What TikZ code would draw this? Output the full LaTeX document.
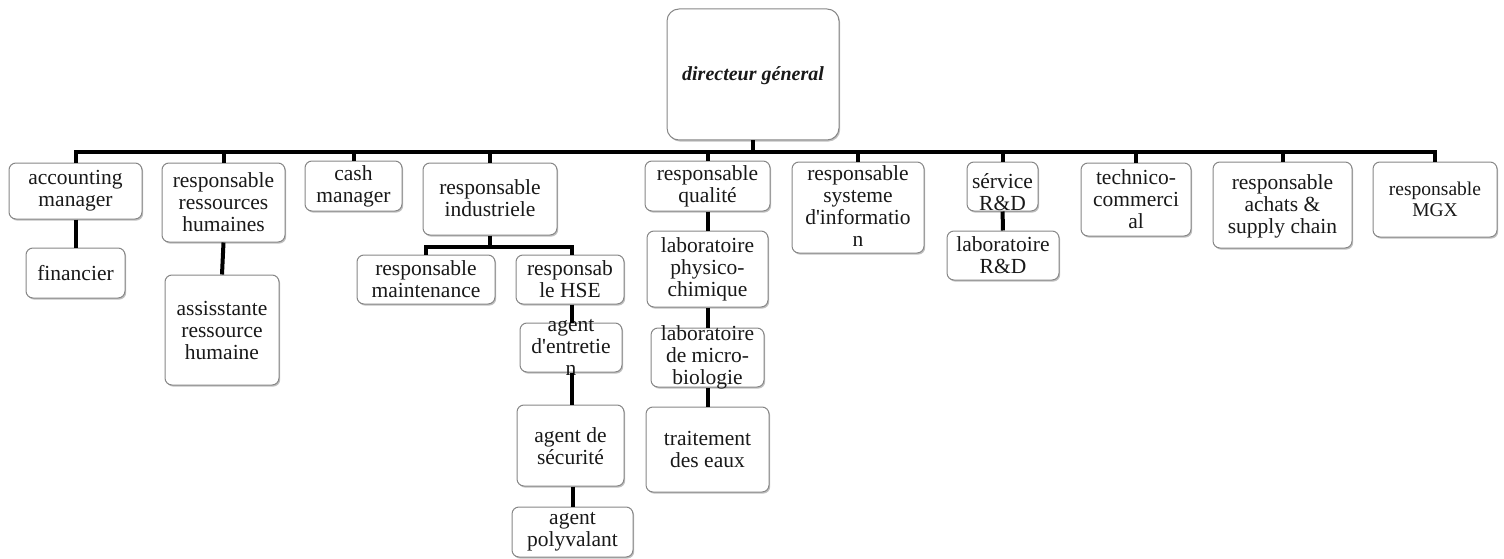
\documentclass[tikz,border=0pt]{standalone}
\usepackage{fontspec}
\setmainfont{Liberation Serif}[Ligatures=TeXOff]
\usetikzlibrary{shadows}
\definecolor{boxgray}{RGB}{135,135,135}
% one box of the chart: name, centre x, centre y, width, height, text, text options
\newcommand\orgnode[7]{%
  \node[orgbox, minimum width=#4pt, minimum height=#5pt,
        label={[txt,#7]center:{#6}}] (#1) at (#2,#3) {};}
\begin{document}
\begin{tikzpicture}[x=1pt,y=-1pt,
  orgbox/.style={draw=boxgray, line width=1pt, fill=white, rounded corners=7pt,
    inner sep=0pt, drop shadow={shadow xshift=1.2pt, shadow yshift=-1.6pt,
    opacity=0.35, fill=black!70}},
  txt/.style={font=\fontsize{21.5}{22}\selectfont, align=center, inner sep=0pt, text=black!90},
  wire/.style={line width=4pt, black}]
\useasboundingbox (0,0) rectangle (1504,559);

% top
\node[orgbox, rounded corners=12pt, minimum width=172pt, minimum height=131pt,
      label={[txt, font=\fontsize{20}{22}\selectfont\bfseries\itshape, yshift=-1pt]center:{directeur géneral}}]
      (dg) at (753,74.5) {};

% first level
\orgnode{acc}{75.5}{191}{133}{56}{accounting\\manager}{}
\orgnode{rrh}{223.5}{202.5}{123}{79}{responsable\\ressources\\humaines}{}
\orgnode{cash}{353.5}{186}{97}{50}{cash\\manager}{}
\orgnode{ind}{490}{199}{134}{72}{responsable\\industriele}{yshift=1pt}
\orgnode{qual}{707.5}{186}{125}{50}{responsable\\qualité}{}
\orgnode{sys}{858}{207.5}{132}{91}{responsable\\systeme\\d'informatio\\n}{yshift=1pt}
\orgnode{rd}{1002.5}{186.5}{71}{49}{sérvice\\R\&D}{yshift=-6pt}
\orgnode{tech}{1136}{199.5}{110}{73}{technico-\\commerci\\al}{}
\orgnode{ach}{1282.5}{205}{139}{86}{responsable\\achats \&\\supply chain}{yshift=-1pt}
\orgnode{mgx}{1435}{199.5}{124}{75}{responsable\\MGX}{font=\fontsize{19.5}{21}\selectfont}

% lower levels
\orgnode{fin}{75.5}{273}{99}{50}{financier}{}
\orgnode{ass}{222}{330}{114}{110}{assisstante\\ressource\\humaine}{}
\orgnode{maint}{426}{279.5}{138}{49}{responsable\\maintenance}{}
\orgnode{hse}{570}{279.5}{108}{49}{responsab\\le HSE}{}
\orgnode{ent}{571}{347.5}{102}{49}{agent\\d'entretie\\n}{}
\orgnode{sec}{570.5}{445.5}{107}{81}{agent de\\sécurité}{yshift=-1pt}
\orgnode{poly}{572.5}{532}{121}{50}{agent\\polyvalant}{}
\orgnode{phys}{707.5}{269}{121}{76}{laboratoire\\physico-\\chimique}{}
\orgnode{micro}{707.5}{357.5}{113}{59}{laboratoire\\de micro-\\biologie}{}
\orgnode{eaux}{707.5}{449.5}{123}{85}{traitement\\des eaux}{}
\orgnode{lab}{1003}{255.5}{112}{49}{laboratoire\\R\&D}{}

% main bus
\coordinate (busL) at (75.5,152);
\coordinate (busR) at (1435,152);
\draw[wire, line cap=rect] (busL) -- (busR);
\draw[wire] (dg.south) -- (dg.south |- busL);
\foreach \n in {acc,rrh,cash,ind,qual,sys,rd,tech,ach,mgx}
  \draw[wire] (\n.north |- busL) -- (\n.north);

% bus under the industrial manager
\coordinate (subL) at (426,247);
\coordinate (subR) at (572,247);
\draw[wire] (ind.south) -- (ind.south |- subL);
\draw[wire, line cap=rect] (subL) -- (subR);
\draw[wire] (subL) -- (maint.north);
\draw[wire] (subR) -- (subR |- hse.north);

% vertical chains
\draw[wire] (acc) -- (fin);
\draw[wire] (rrh.south) -- (ass.north);
\draw[wire] (hse.south -| 572,0) -- (ent.north -| 572,0);
\draw[wire] (ent.south -| 572,0) -- (sec.north -| 572,0);
\draw[wire] (sec.south -| 573,0) -- (poly.north -| 573,0);
\draw[wire] (qual) -- (phys);
\draw[wire] (phys) -- (micro);
\draw[wire] (micro) -- (eaux);
\draw[wire] (rd) -- (lab);
\end{tikzpicture}
\end{document}
